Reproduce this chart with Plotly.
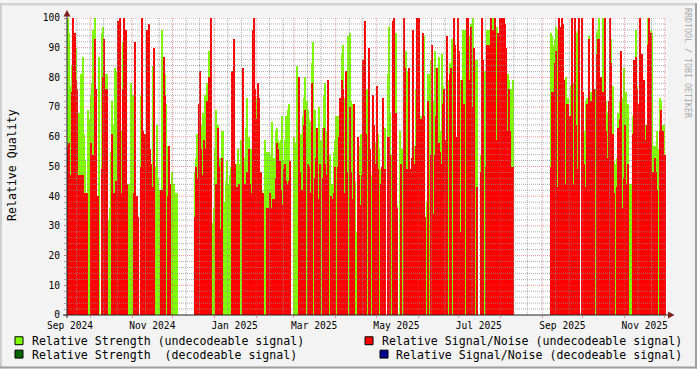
import plotly.graph_objects as go
import pandas as pd

# ---------------- data (daily values) ----------------
seg1_start = "2024-09-14"
seg1_strength = [100, 95, 77, 84, 95, 93, 90, 75, 68, 55, 81, 87, 61, 52, 40, 69, 66, 74, 78, 96,
                 100, 70, 36, 87, None, 95, 97, 85, 81, 81, 32, 36, 55, 72, 64, 83, 82, 83, 74, 74,
                 62, 92, 90, 90, 44, 44, 44, 78, 74, 41, 37, 37, 33, None, 74, 72, 62, 61, 61, 51,
                 57, 53, 51, 84, 47, 50, 64, 46, 42, 42, 96, 84, 81, 71, 57, 48, 41, 48, 41, 44,
                 41, 41]
seg1_snr = [57, 58, 47, 75, 100, 95, 79, 76, 47, 47, 47, 47, 41, 41, 41, None, None, 58, 54, 54,
            93, 76, 40, None, None, 49, 80, 93, 76, 76, None, None, None, 61, 41, 39, 45, 99, 48, 100,
            41, 76, 100, 96, 44, None, None, None, None, 41, 92, 40, 33, None, 50, 100, 62, 61, 41, 96,
            98, 56, 51, 43, 90, None, None, None, None, 42, 42, 87, 74, None, 40, 57, 44, None, None, None,
            None, None]

seg2_start = "2024-12-17"
seg2_strength = [48, 53, 61, 56, 64, 64, 68, 68, 74, 78, 66, 89, 73, 31, 36, 56, 69, 64, 50, 53,
                 62, 62, 38, 45, 52, 44, 47, 50, 62, 64, 51, 51, 56, 51, 59, 56, 58, 53, 63, 73,
                 60, 47, 56, 96, 46, 52, 73, 57, 61, 48, 42, 41, 59, 48, 55, 55, 54, 65, 53, 53,
                 62, 63, 59, 58, 59, 67, 52, 59, 67, 69, 71, 52, None, None, 60, 58, 84, 80, 56, 61,
                 67, 73, 80, 72, 69, 66, 65, 85, 92, 69, 62, 61, 70, 55, 59, 63, 74, 78, 62, 58,
                 54, 44, 44, 55, 59, 67, 67, 60, 73, 88, 91, 73, 53, 65, 94, 95, 72, 71, 71, 45,
                 28, 28, 57, 61, 61, 83, 76, 76, 76, 56, 47, 47, 66, 60, 58, 65, 61, 56, 49, 49,
                 50, 63, None, 81, 97, 68, 54, 97, 95, 95, 37, None, 62, 35, 56, 58, 56, 89, 82, 32,
                 35, 53, 96, 57, 76, 67, 67, 48, 67, 95, 94, 30, 38, 81, 81, 86, 91, 72, 89, 76,
                 69, 87, 62, 88, 77, 75, 41, 87, 79, 85, 73, 93, 98, 79, 60, 100, 71, 79, 79, 96,
                 96, 96, 75, 100, 94, 98, 100, 61, 86, 86, None, None, 54, 48, 82, 82, 68, 96, 96, 86,
                 100, 100, 98, 100, 97, 95, 100, 100, 100, 100, 65, 82, 81, 79, 76, 76, 79]
seg2_snr = [33, 50, 46, 71, 82, 56, 47, 59, 56, 72, 56, 80, 100, None, None, None, 44, 63, 50, 29,
            53, None, None, None, None, None, None, None, 82, 93, 51, 43, 43, 44, None, None, 83, 44, 41, 48,
            56, 44, 41, 96, 100, 76, 66, 78, 73, 48, None, 41, None, None, 36, 36, 41, 36, 39, 39,
            46, 58, 56, 52, 42, 37, 49, 51, 45, 44, 45, 52, None, None, None, None, None, 80, 48, 42,
            42, 64, 69, None, 51, 50, 41, 78, None, 46, 53, 63, 39, 51, None, 46, 63, 51, 47, 79,
            None, 40, 39, 41, 50, None, 50, 60, 73, 79, 76, 41, 82, 48, None, 70, 48, 39, 71, None,
            None, 60, 47, 37, 47, 86, 99, 61, None, 90, 56, None, 74, 64, 51, 77, 49, None, 44, 50,
            73, 49, None, 60, 60, 54, None, 99, 100, 68, 36, None, None, 51, None, 100, 83, 49, 49, 83,
            49, 53, 96, 51, 57, 100, 100, None, 66, 95, 67, 33, None, 72, None, 54, 91, 34, 54, 67,
            83, 58, 55, 51, 71, 76, 59, 94, None, 81, 83, None, 100, 91, 60, 100, 89, 28, 79, 58,
            71, None, 100, 100, 79, 97, 70, 90, None, 43, None, None, 48, 100, 86, None, 50, 91, 91, 54,
            100, 96, 73, 100, 59, 95, 100, 100, 100, 100, 98, 90, 62, 76, 62, 50, 50]

seg3_start = "2025-09-07"
seg3_strength = [95, 94, 91, 93, 97, 96, 100, 97, 100, 98, 39, 80, 71, 73, 67, 77, 69, 78, 94, 95,
                 96, 96, None, 72, 75, 62, 72, 73, 94, 72, 75, 84, 57, 76, 95, 96, 100, 80, 75, 100,
                 95, 72, 68, 62, 100, 93, 77, 52, 51, 53, 68, 72, 69, 73, 83, 69, 75, 71, 44, 44,
                 44, 67, 86, 96, 77, 69, 71, 71, 74, 76, 64, 64, 100, 98, 96, 95, 57, 57, 54, 62,
                 56, 73, 72, 64, 64, 54]
seg3_snr = [50, 75, 75, 85, 89, 43, 100, 97, 100, 98, 79, 44, 71, 71, 67, 59, 100, 44, 100, 64,
            49, 100, None, 100, 75, 51, 43, 71, 93, 53, 72, 100, 76, None, 88, 93, 93, 80, None, 75,
            100, 62, 53, 72, 100, 85, 61, 41, None, 43, 63, 66, 89, 36, 46, 64, 44, 51, None, None,
            None, 61, 86, 87, 76, 71, 100, None, 88, 79, 59, 64, 91, 100, 95, None, 48, 53, 48, 42,
            None, 62, 69, 62, None, 54]

# decodeable-signal series carry no data in this period
decodeable_strength = []
decodeable_snr = []

x_range = ["2024-09-13 18:00", "2025-12-02 13:00"]
tick_dates = ["2024-09-16", "2024-11-16", "2025-01-16", "2025-03-16",
              "2025-05-16", "2025-07-16", "2025-09-16", "2025-11-16"]
tick_labels = ["Sep 2024", "Nov 2024", "Jan 2025", "Mar 2025",
               "May 2025", "Jul 2025", "Sep 2025", "Nov 2025"]
y_ticks = list(range(0, 101, 10))

legend_labels = ["Relative Strength (undecodeable signal)",
                 "Relative Signal/Noise (undecodeable signal)",
                 "Relative Strength  (decodeable signal)",
                 "Relative Signal/Noise (decodeable signal)"]

# ---------------- build series ----------------
dates, strength, snr = [], [], []
for st, s, r in [(seg1_start, seg1_strength, seg1_snr),
                 (seg2_start, seg2_strength, seg2_snr),
                 (seg3_start, seg3_strength, seg3_snr)]:
    dates += list(pd.date_range(st, periods=len(s), freq="D"))
    strength += s
    snr += r

GREEN = "#80FF00"
RED = "#FF0000"
DKGREEN = "#006400"
NAVY = "#000090"
FONT = "DejaVu Sans Mono"
DAY_MS = 86400000

fig = go.Figure()
fig.add_trace(go.Bar(x=dates, y=strength, width=DAY_MS, offset=0, marker=dict(color=GREEN, line=dict(width=0)),
                     name=legend_labels[0]))
fig.add_trace(go.Bar(x=dates, y=snr, width=DAY_MS, offset=0, marker=dict(color=RED, line=dict(width=0)),
                     name=legend_labels[1]))
fig.add_trace(go.Bar(x=[], y=decodeable_strength, marker=dict(color=DKGREEN), name=legend_labels[2]))
fig.add_trace(go.Bar(x=[], y=decodeable_snr, marker=dict(color=NAVY), name=legend_labels[3]))

W, H = 697, 369
L, R, T, B = 67, 30, 15, 54
PW, PH = W - L - R, H - T - B


def px(x):
    return (x - L) / PW


def py(y):
    return (H - B - y) / PH


GRID = "rgba(143,143,143,0.75)"
MGRID = "rgba(222,79,79,0.6)"
shapes = []

# horizontal grid (on top of data, like rrdtool)
for v in range(2, 101, 2):
    shapes.append(dict(type="line", xref="paper", yref="y", x0=0, x1=1, y0=v, y1=v, layer="above",
                       line=dict(color=MGRID if v % 10 == 0 else GRID, width=1, dash="1px,1px")))

# vertical grid: month starts (major) and 11th / 21st (minor)
start = pd.Timestamp(x_range[0])
end = pd.Timestamp(x_range[1])
for m in pd.date_range("2024-09-01", "2025-12-01", freq="MS"):
    for day in (1, 11, 21):
        t = m + pd.Timedelta(days=day - 1)
        if start < t < end:
            shapes.append(dict(type="line", xref="x", yref="paper", x0=t, x1=t, y0=0, y1=1, layer="above",
                               line=dict(color=MGRID if day == 1 else GRID, width=1, dash="1px,1px")))

AX = "#1F1F1F"
ARROW = "#7F1F1F"
# axes
shapes.append(dict(type="line", xref="paper", yref="paper", x0=px(67), x1=px(67), y0=py(318), y1=py(12),
                   layer="above", line=dict(color=AX, width=1)))
shapes.append(dict(type="line", xref="paper", yref="paper", x0=px(63), x1=px(670), y0=py(315), y1=py(315),
                   layer="above", line=dict(color=AX, width=1)))
# arrows
shapes.append(dict(type="path", xref="paper", yref="paper", layer="above",
                   path=f"M {px(63.5)} {py(13.5)} L {px(70.5)} {py(13.5)} L {px(67)} {py(7)} Z",
                   fillcolor=ARROW, line=dict(width=0)))
shapes.append(dict(type="path", xref="paper", yref="paper", layer="above",
                   path=f"M {px(668)} {py(311.5)} L {px(668)} {py(318.5)} L {px(674.5)} {py(315)} Z",
                   fillcolor=ARROW, line=dict(width=0)))
# 3D frame
shapes.append(dict(type="rect", xref="paper", yref="paper", x0=px(0), x1=px(W), y0=py(0), y1=py(2),
                   fillcolor="#CFCFCF", line=dict(width=0), layer="below"))
shapes.append(dict(type="rect", xref="paper", yref="paper", x0=px(0), x1=px(2), y0=py(0), y1=py(H),
                   fillcolor="#CFCFCF", line=dict(width=0), layer="below"))
shapes.append(dict(type="rect", xref="paper", yref="paper", x0=px(0), x1=px(W), y0=py(H - 2), y1=py(H),
                   fillcolor="#9E9E9E", line=dict(width=0), layer="below"))
shapes.append(dict(type="rect", xref="paper", yref="paper", x0=px(W - 2), x1=px(W), y0=py(0), y1=py(H),
                   fillcolor="#9E9E9E", line=dict(width=0), layer="below"))

# legend boxes
legend_pos = [(15, 341, 30, GREEN), (365, 341, 380, RED), (15, 354.5, 30, DKGREEN), (380, 354.5, 394, NAVY)]
annotations = []
for (bx, cy, tx, col), lab in zip(legend_pos, legend_labels):
    shapes.append(dict(type="rect", xref="paper", yref="paper", x0=px(bx), x1=px(bx + 8),
                       y0=py(cy + 4), y1=py(cy - 4), fillcolor=col, line=dict(color="#000000", width=1)))
    annotations.append(dict(x=px(tx), y=py(cy + 0.5), xref="paper", yref="paper", text=lab, showarrow=False,
                            xanchor="left", yanchor="middle", font=dict(family=FONT, size=11.6, color="#000000")))

annotations.append(dict(x=px(11.5), y=py(164), xref="paper", yref="paper", text="Relative Quality",
                        textangle=-90, showarrow=False, xanchor="center", yanchor="middle",
                        font=dict(family=FONT, size=11.6, color="#000000")))
annotations.append(dict(x=px(688.5), y=py(60), xref="paper", yref="paper", text="RRDTOOL / TOBI OETIKER",
                        textangle=90, showarrow=False, xanchor="center", yanchor="middle",
                        font=dict(family=FONT, size=8.3, color="#AAAAAA")))

fig.update_layout(
    width=W, height=H,
    margin=dict(l=L, r=R, t=T, b=B, pad=0),
    paper_bgcolor="#F3F3F3",
    plot_bgcolor="#FFFFFF",
    barmode="overlay",
    bargap=0,
    showlegend=False,
    shapes=shapes,
    annotations=annotations,
    xaxis=dict(type="date", range=x_range, tickvals=tick_dates, ticktext=tick_labels,
               ticks="", showgrid=False, zeroline=False, showline=False, fixedrange=True,
               ticklabelstandoff=3,
               tickfont=dict(family=FONT, size=9.6, color="#000000"),
               minor=dict(dtick="M1", tick0="2024-09-01", ticks="outside", ticklen=2,
                          tickcolor=MGRID, showgrid=False)),
    yaxis=dict(range=[0, 100], tickvals=y_ticks, ticks="outside", ticklen=2, tickcolor=MGRID,
               showgrid=False, zeroline=False, showline=False, fixedrange=True,
               ticklabelstandoff=2,
               tickfont=dict(family=FONT, size=9.6, color="#000000"),
               minor=dict(dtick=2, ticks="outside", ticklen=2, tickcolor=GRID, showgrid=False)),
)

fig.write_html("out.html")
